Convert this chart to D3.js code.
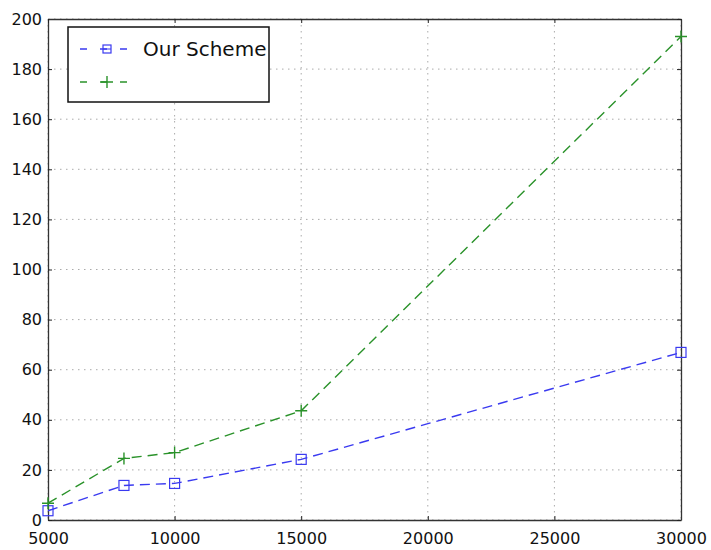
<!DOCTYPE html>
<html lang="en">
<head>
  <meta charset="utf-8">
  <script src="https://d3js.org/d3.v7.min.js"></script>
  <style>
    body { margin: 0; background: #fff; overflow: hidden; }
    text { font-family: "DejaVu Sans", sans-serif; fill: #111; }
  </style>
</head>
<body>
<div id="chart"></div>
<script>

// data
var xValues = [5000, 8000, 10000, 15000, 30000];
var ourScheme = [3.7, 13.8, 14.6, 24.2, 66.9];
var otherScheme = [6.7, 24.6, 26.9, 43.6, 193];
var xTicks = [5000, 10000, 15000, 20000, 25000, 30000];
var yTicks = [0, 20, 40, 60, 80, 100, 120, 140, 160, 180, 200];
var seriesNames = ["Our Scheme", ""];

var margin = {top: 19, right: 30, bottom: 30, left: 48},
  width = 681 - margin.left,
  height = 520 - margin.top;

var svg = d3.select("#chart")
  .append("svg")
    .attr("width", 711)
    .attr("height", 550)
  .append("g")
    .attr("transform", "translate(" + margin.left + "," + margin.top + ")");

var x = d3.scaleLinear().domain([5000, 30000]).range([0, width]);
var y = d3.scaleLinear().domain([0, 200]).range([height, 0]);

// grid
svg.append("g")
  .selectAll("line")
  .data(xTicks)
  .enter().append("line")
    .attr("x1", function(d) { return x(d); })
    .attr("x2", function(d) { return x(d); })
    .attr("y1", 0).attr("y2", height)
    .style("stroke", "#aaa")
    .style("stroke-dasharray", "1.5,4.5");

svg.append("g")
  .selectAll("line")
  .data(yTicks)
  .enter().append("line")
    .attr("x1", 0).attr("x2", width)
    .attr("y1", function(d) { return y(d); })
    .attr("y2", function(d) { return y(d); })
    .style("stroke", "#aaa")
    .style("stroke-dasharray", "1.5,4.5");

// axes with inward ticks on all four sides
var fmt = d3.format("d");
var axBottom = svg.append("g")
  .attr("transform", "translate(0," + height + ")")
  .call(d3.axisBottom(x).tickValues(xTicks).tickFormat(fmt).tickSizeInner(-4).tickSizeOuter(0).tickPadding(10));
var axLeft = svg.append("g")
  .call(d3.axisLeft(y).tickValues(yTicks).tickSizeInner(-4).tickSizeOuter(0).tickPadding(6));
var axTop = svg.append("g")
  .call(d3.axisTop(x).tickValues(xTicks).tickFormat("").tickSizeInner(-4).tickSizeOuter(0));
var axRight = svg.append("g")
  .attr("transform", "translate(" + width + ",0)")
  .call(d3.axisRight(y).tickValues(yTicks).tickFormat("").tickSizeInner(-4).tickSizeOuter(0));

[axBottom, axLeft, axTop, axRight].forEach(function(a) {
  a.selectAll("text").style("font-size", "16px").style("font-family", "DejaVu Sans").style("fill", "#111");
  a.selectAll("line").style("stroke", "#222");
  a.select(".domain").style("stroke", "#333").style("stroke-width", 1.3);
});
axBottom.selectAll("text").attr("dy", "0.9em");

var line = d3.line()
  .x(function(d) { return x(d[0]); })
  .y(function(d) { return y(d[1]); });

var blue = "#3a3af0", green = "#2a922a";

var blueData = xValues.map(function(v, i) { return [v, ourScheme[i]]; });
var greenData = xValues.map(function(v, i) { return [v, otherScheme[i]]; });

svg.append("path")
  .datum(greenData)
  .attr("d", line)
  .style("fill", "none")
  .style("stroke", green)
  .style("stroke-width", 1.4)
  .style("stroke-dasharray", "10,6");

svg.append("path")
  .datum(blueData)
  .attr("d", line)
  .style("fill", "none")
  .style("stroke", blue)
  .style("stroke-width", 1.4)
  .style("stroke-dasharray", "10,6");

// markers
svg.selectAll(".sq")
  .data(blueData)
  .enter().append("rect")
    .attr("x", function(d) { return x(d[0]) - 5; })
    .attr("y", function(d) { return y(d[1]) - 5; })
    .attr("width", 10).attr("height", 10)
    .style("fill", "none")
    .style("stroke", blue)
    .style("stroke-width", 1.2);

svg.selectAll(".plus")
  .data(greenData)
  .enter().append("path")
    .attr("d", function(d) {
      var cx = x(d[0]), cy = y(d[1]);
      return "M" + (cx - 6) + "," + cy + "H" + (cx + 6) + "M" + cx + "," + (cy - 6) + "V" + (cy + 6);
    })
    .style("stroke", green)
    .style("stroke-width", 1.4);

// legend
var lg = svg.append("g").attr("transform", "translate(" + (68 - margin.left) + "," + (27 - margin.top) + ")");
lg.append("rect")
  .attr("width", 201).attr("height", 75)
  .style("fill", "#fff")
  .style("stroke", "#111")
  .style("stroke-width", 1.5);

var legendItems = [
  {name: seriesNames[0], color: blue, marker: "square"},
  {name: seriesNames[1], color: green, marker: "plus"}
];
legendItems.forEach(function(it, i) {
  var ly = 22 + i * 33;
  lg.append("line")
    .attr("x1", 12).attr("x2", 66).attr("y1", ly).attr("y2", ly)
    .style("stroke", it.color).style("stroke-width", 1.3)
    .style("stroke-dasharray", "7,13");
  if (it.marker === "square") {
    lg.append("rect").attr("x", 35).attr("y", ly - 4).attr("width", 8).attr("height", 8)
      .style("fill", "none").style("stroke", it.color).style("stroke-width", 1.2);
    lg.append("line").attr("x1", 35).attr("x2", 43).attr("y1", ly).attr("y2", ly)
      .style("stroke", it.color).style("stroke-width", 1);
  } else {
    lg.append("path")
      .attr("d", "M33," + ly + "H45M39," + (ly - 6) + "V" + (ly + 6))
      .style("stroke", it.color).style("stroke-width", 1.4);
  }
  lg.append("text")
    .attr("x", 75).attr("y", ly)
    .attr("dy", "0.36em")
    .style("font-size", "20px")
    .text(it.name);
});

</script>
</body>
</html>
